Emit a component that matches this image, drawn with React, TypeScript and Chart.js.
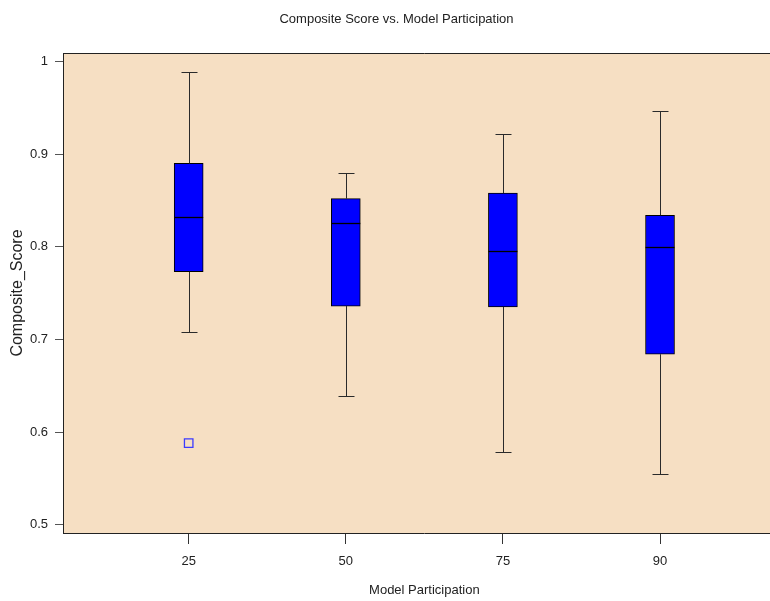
import React, { useEffect, useRef } from "react";
import { Chart, registerables } from "chart.js";

Chart.register(...registerables);

const categories = ["25", "50", "75", "90"];
const whiskerLow = [0.708, 0.639, 0.578, 0.555];
const q1 = [0.773, 0.736, 0.735, 0.684];
const median = [0.832, 0.826, 0.795, 0.8];
const q3 = [0.89, 0.852, 0.858, 0.834];
const whiskerHigh = [0.989, 0.88, 0.922, 0.947];
const outlierCategory = ["25"];
const outlierValue = [0.588];
const yTicks = [0.5, 0.6, 0.7, 0.8, 0.9, 1];
const yTickLabels = ["0.5", "0.6", "0.7", "0.8", "0.9", "1"];

const NARROW = "'Liberation Sans', Arial, sans-serif";
const REGULAR = "'Liberation Sans', Arial, sans-serif";

const boxPlugin = {
  id: "boxExtras",
  beforeDraw(chart: any) {
    const { ctx, chartArea } = chart;
    ctx.save();
    ctx.fillStyle = "#F6DFC3";
    ctx.fillRect(chartArea.left, chartArea.top, chartArea.right - chartArea.left, chartArea.bottom - chartArea.top);
    ctx.restore();
  },
  afterDatasetsDraw(chart: any) {
    const { ctx, scales, chartArea } = chart;
    const xs = scales.x;
    const ys = scales.y;
    const bars = chart.getDatasetMeta(0).data;
    const cap = 8;
    ctx.save();
    categories.forEach((_, i) => {
      const xr = xs.getPixelForValue(i + 1);
      const x = Math.round(xr) + 0.5;
      const yLo = Math.round(ys.getPixelForValue(whiskerLow[i])) + 0.5;
      const yHi = Math.round(ys.getPixelForValue(whiskerHigh[i])) + 0.5;
      const yQ1 = ys.getPixelForValue(q1[i]);
      const yQ3 = ys.getPixelForValue(q3[i]);
      const yMed = Math.round(ys.getPixelForValue(median[i])) + 0.5;
      ctx.strokeStyle = "#2a2a2a";
      ctx.lineWidth = 1;
      ctx.beginPath();
      ctx.moveTo(x, yQ3);
      ctx.lineTo(x, yHi);
      ctx.moveTo(x - cap, yHi);
      ctx.lineTo(x + cap, yHi);
      ctx.moveTo(x, yQ1);
      ctx.lineTo(x, yLo);
      ctx.moveTo(x - cap, yLo);
      ctx.lineTo(x + cap, yLo);
      ctx.stroke();
      const bw = bars[i] ? bars[i].width / 2 : 14.5;
      ctx.strokeStyle = "#000";
      ctx.lineWidth = 1.3;
      ctx.beginPath();
      ctx.moveTo(xr - bw, yMed);
      ctx.lineTo(xr + bw, yMed);
      ctx.stroke();
    });
    // top frame line
    ctx.strokeStyle = "#222";
    ctx.lineWidth = 1;
    ctx.beginPath();
    ctx.moveTo(chartArea.left, chartArea.top + 0.5);
    ctx.lineTo(chartArea.right, chartArea.top + 0.5);
    ctx.stroke();
    ctx.restore();
  },
};

export default function App() {
  const ref = useRef<HTMLCanvasElement | null>(null);
  useEffect(() => {
    if (!ref.current) return;
    const chart = new Chart(ref.current, {
      type: "bar",
      data: {
        datasets: [
          {
            type: "bar",
            data: categories.map((c, i) => ({ x: i + 1, y: [q1[i], q3[i]] })) as any,
            backgroundColor: "#0000FF",
            borderColor: "#000",
            borderWidth: 1,
            borderSkipped: false,
            barThickness: 29,
          } as any,
          {
            type: "scatter",
            data: outlierCategory.map((c, i) => ({ x: categories.indexOf(c) + 1, y: outlierValue[i] })),
            pointStyle: "rect",
            pointRadius: 6,
            backgroundColor: "rgba(0,0,0,0)",
            borderColor: "#3c3cff",
            borderWidth: 1.3,
          } as any,
        ],
      },
      options: {
        responsive: false,
        animation: false,
        events: [],
        layout: { padding: 0 },
        plugins: {
          legend: { display: false },
          tooltip: { enabled: false },
          title: {
            display: true,
            text: "Composite Score vs. Model Participation",
            color: "#222",
            font: { family: NARROW, size: 13, weight: "normal" },
            padding: { top: 12, bottom: 25.4 },
          },
        },
        scales: {
          x: {
            type: "linear",
            offset: false,
            min: 0.2,
            max: 4.8,
            afterBuildTicks: (s: any) => {
              s.ticks = categories.map((_, i) => ({ value: i + 1 }));
            },
            afterFit: (s: any) => {
              s.height = 68;
            },
            ticks: {
              autoSkip: false,
              maxRotation: 0,
              color: "#222",
              padding: 10,
              font: { family: NARROW, size: 13 },
              callback: (_v: any, i: number) => categories[i],
            },
            grid: { offset: false, drawOnChartArea: false, tickLength: 11, color: "#333", lineWidth: 1 },
            border: { display: true, color: "#222", width: 1 },
            title: {
              display: true,
              text: "Model Participation",
              color: "#222",
              font: { family: NARROW, size: 13 },
              padding: { top: 0, bottom: 3.2 },
            },
          },
          y: {
            type: "linear",
            min: 0.491,
            max: 1.0092,
            afterBuildTicks: (s: any) => {
              s.ticks = yTicks.map((v) => ({ value: v }));
            },
            afterFit: (s: any) => {
              s.width = 63;
            },
            ticks: {
              color: "#222",
              padding: 7,
              font: { family: NARROW, size: 13 },
              callback: (_v: any, i: number) => yTickLabels[i],
            },
            grid: { drawOnChartArea: false, tickLength: 8, color: "#555", lineWidth: 1 },
            border: { display: true, color: "#222", width: 1 },
            title: {
              display: true,
              text: "Composite_Score",
              color: "#222",
              font: { family: REGULAR, size: 16 },
              padding: { top: 7.7, bottom: 0 },
            },
          },
        },
      } as any,
      plugins: [boxPlugin],
    });
    return () => chart.destroy();
  }, []);
  return (
    <div style={{ position: "absolute", left: 0, top: 0, width: 770, height: 601, overflow: "hidden", background: "#fff" }}>
      <canvas ref={ref} width={793} height={601} style={{ display: "block" }} />
    </div>
  );
}
